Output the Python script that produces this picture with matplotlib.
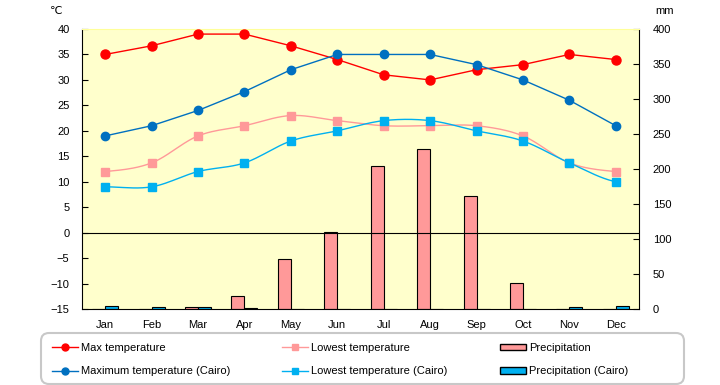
import matplotlib
matplotlib.use("Agg")
import matplotlib.pyplot as plt
import numpy as np
from matplotlib.lines import Line2D
from matplotlib.patches import Patch, FancyBboxPatch

plt.rcParams['font.family'] = ['Liberation Sans', 'DejaVu Sans']
plt.rcParams['font.size'] = 8

months = ['Jan', 'Feb', 'Mar', 'Apr', 'May', 'Jun',
          'Jul', 'Aug', 'Sep', 'Oct', 'Nov', 'Dec']

# temperatures (deg C)
max_temp = [35, 36.7, 39, 39, 36.7, 34, 31, 30, 32, 33, 35, 34]
low_temp = [12, 13.7, 19, 21, 23, 22, 21, 21, 21, 19, 13.7, 12]
max_cairo = [19, 21, 24, 27.7, 32, 35, 35, 35, 33, 30, 26, 21]
low_cairo = [9, 9, 12, 13.7, 18, 20, 22, 22, 20, 18, 13.7, 10]

# precipitation (mm)
precip = [0, 0, 2.5, 18, 72, 110, 204, 229, 161, 37, 0, 0]
precip_cairo = [5, 3, 3, 1, 0, 0, 0, 0, 0, 0, 3, 4.5]


def smooth(y, n=20):
    # catmull-rom curve through the points (smoothed line)
    y = np.asarray(y, dtype=float)
    x = np.arange(len(y), dtype=float)
    p = np.concatenate([[y[0]], y, [y[-1]]])
    xs, ys = [], []
    t = np.linspace(0, 1, n, endpoint=False)
    for i in range(len(y) - 1):
        p0, p1, p2, p3 = p[i], p[i + 1], p[i + 2], p[i + 3]
        c = 0.5 * ((2 * p1) + (-p0 + p2) * t + (2 * p0 - 5 * p1 + 4 * p2 - p3) * t ** 2
                   + (-p0 + 3 * p1 - 3 * p2 + p3) * t ** 3)
        xs.append(x[i] + t)
        ys.append(c)
    xs.append([x[-1]])
    ys.append([y[-1]])
    return np.concatenate(xs), np.concatenate(ys)


fig = plt.figure(figsize=(7.2, 3.85), dpi=100)
rect = [82 / 720, 1 - 309 / 385, 557 / 720, 280 / 385]
idx = np.arange(len(months))

# precipitation bars (right axis, behind the lines)
axb = fig.add_axes(rect, facecolor='#FFFFCC')
w = 0.28
axb.bar(idx - w / 2, precip, w, color='#FF9999', edgecolor='black', linewidth=0.8)
axb.bar(idx + w / 2, precip_cairo, w, color='#00B0F0', edgecolor='black', linewidth=0.8)
axb.set_xlim(-0.5, 11.5)
axb.set_ylim(0, 400)
axb.set_yticks(range(0, 401, 50))
axb.yaxis.tick_right()
axb.tick_params(axis='y', direction='in', length=4, pad=10, labelsize=8)
axb.set_xticks([])
for s in ['top', 'left', 'bottom']:
    axb.spines[s].set_visible(False)
axb.spines['right'].set_linewidth(0.8)

# temperature lines
ax = fig.add_axes(rect, facecolor='none')
ax.set_xlim(-0.5, 11.5)
ax.set_ylim(-15, 40)
ax.set_yticks(range(-15, 41, 5))
ax.set_xticks(idx)
ax.set_xticklabels(months)
ax.tick_params(axis='y', direction='in', length=4, pad=9, labelsize=8)
ax.tick_params(axis='x', length=0, pad=8, labelsize=8)
ax.axhline(0, color='black', linewidth=0.8)
ax.spines['top'].set_color('#FFFF99')
ax.spines['right'].set_visible(False)
ax.spines['left'].set_linewidth(0.8)
ax.spines['bottom'].set_linewidth(0.8)

series = [
    (max_temp, '#FF0000', 'o', 6.5, False, 'Max temperature'),
    (max_cairo, '#0070C0', 'o', 6, False, 'Maximum temperature (Cairo)'),
    (low_temp, '#FF9999', 's', 6, True, 'Lowest temperature'),
    (low_cairo, '#00B0F0', 's', 6, True, 'Lowest temperature (Cairo)'),
]
handles = []
for vals, col, mk, ms, smoothed, lab in series:
    if smoothed:
        sx, sy = smooth(vals)
    else:
        sx, sy = idx, vals
    ax.plot(sx, sy, color=col, linewidth=1, zorder=3)
    ax.plot(idx, vals, linestyle='none', marker=mk, color=col, markersize=ms, zorder=4)
    handles.append(Line2D([], [], color=col, marker=mk, markersize=5, linewidth=1, label=lab))
handles.append(Patch(facecolor='#FF9999', edgecolor='black', label='Precipitation'))
handles.append(Patch(facecolor='#00B0F0', edgecolor='black', label='Precipitation (Cairo)'))

fig.text(56 / 720, 1 - 11 / 385, '℃', ha='center', va='center', fontsize=8,
         family=['DejaVu Sans'])
fig.text(665 / 720, 1 - 11 / 385, 'mm', ha='center', va='center', fontsize=8)

# rounded frame around the legend
frame = FancyBboxPatch((0.41, 0.01), 6.43, 0.51,
                       boxstyle='round,pad=0,rounding_size=0.08',
                       transform=fig.dpi_scale_trans, facecolor='white',
                       edgecolor='#C8C8C8', linewidth=1.5)
fig.patches.append(frame)

leg = fig.legend(handles=handles, ncol=3, loc='upper left',
                 bbox_to_anchor=(52 / 720, 1 - 343 / 385),
                 frameon=False, fontsize=8, columnspacing=4.7,
                 handlelength=2.3, handleheight=0.5, handletextpad=0.3,
                 labelspacing=1.2, borderpad=0, borderaxespad=0)

fig.savefig('out.png', dpi=100)
